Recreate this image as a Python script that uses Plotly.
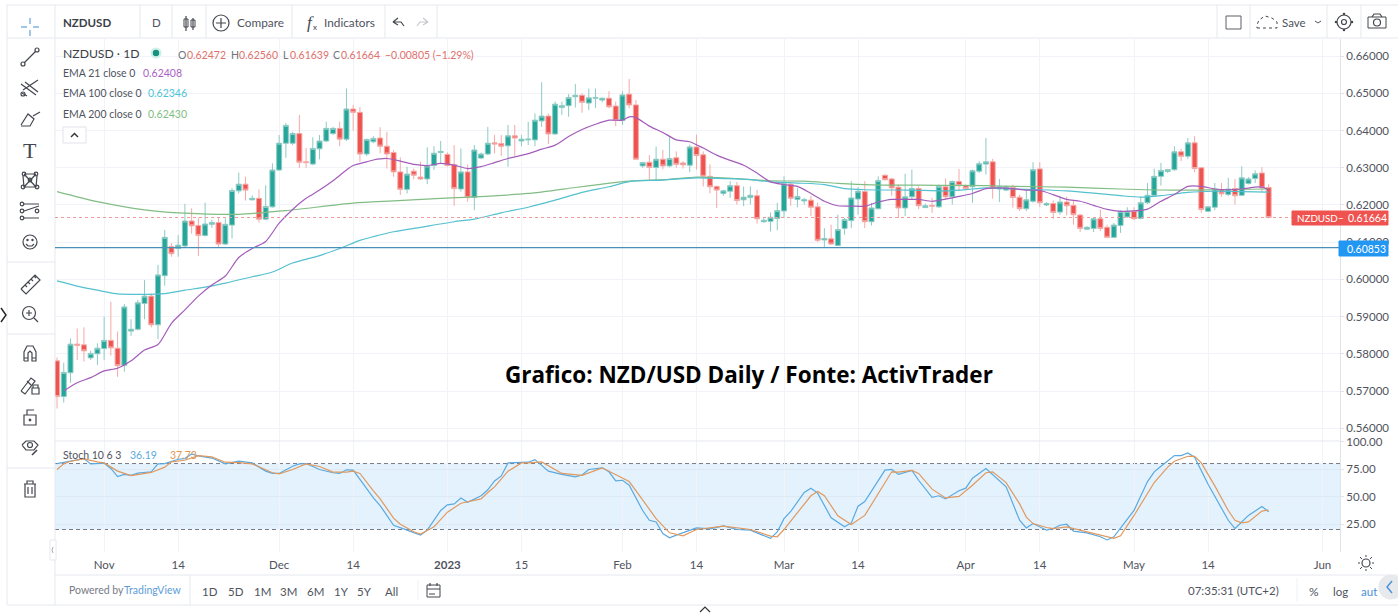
import re
import plotly.graph_objects as go

# ---------- candle data (bar number = position on the time scale) ----------
opens = [.5781,.5685,.5749,.5826,.5824,.5789,.5800,.5814,.5836,.5815,.5769,.5861,.5866,.5935,.5955,.5878,.6010,.6088,.6083,.6090,
.6157,.6145,.6118,.6148,.6153,.6095,.6146,.6238,.6256,.6214,.6218,.6162,.6195,.6294,.6366,.6366,.6392,.6316,.6310,.6351,
.6372,.6392,.6406,.6377,.6458,.6449,.6337,.6370,.6380,.6358,.6341,.6289,.6242,.6291,.6275,.6270,.6306,.6341,.6336,.6309,
.6243,.6289,.6220,.6326,.6337,.6367,.6365,.6359,.6386,.6372,.6375,.6375,.6426,.6439,.6391,.6462,.6467,.6491,.6495,.6474,
.6487,.6482,.6487,.6466,.6427,.6498,.6469,.6305,.6315,.6301,.6323,.6305,.6327,.6313,.6307,.6356,.6335,.6277,.6250,.6231,
.6237,.6252,.6214,.6220,.6225,.6155,.6156,.6164,.6184,.6256,.6215,.6211,.6213,.6195,.6106,.6109,.6091,.6137,.6158,.6216,
.6236,.6155,.6190,.6280,.6270,.6248,.6192,.6222,.6244,.6193,.6199,.6195,.6249,.6222,.6263,.6252,.6249,.6291,.6310,.6316,
.6243,.6240,.6247,.6221,.6190,.6210,.6297,.6200,.6204,.6181,.6208,.6199,.6173,.6135,.6137,.6163,.6140,.6113,.6145,.6168,
.6183,.6164,.6206,.6226,.6277,.6290,.6295,.6343,.6331,.6367,.6300,.6183,.6194,.6241,.6228,.6244,.6226,.6258,.6271,.6286,.62472]
highs = [.5790,.5776,.5841,.5868,.5871,.5808,.5828,.5900,.5940,.5860,.5934,.5893,.5945,.5998,.5962,.6039,.6133,.6097,.6119,.6203,
.6191,.6166,.6206,.6160,.6167,.6164,.6245,.6287,.6276,.6226,.6242,.6253,.6312,.6388,.6420,.6397,.6442,.6353,.6382,.6388,
.6424,.6410,.6424,.6513,.6469,.6463,.6379,.6385,.6409,.6397,.6348,.6328,.6303,.6298,.6316,.6355,.6358,.6372,.6341,.6361,
.6352,.6309,.6361,.6341,.6410,.6388,.6388,.6415,.6415,.6388,.6424,.6446,.6530,.6446,.6478,.6478,.6498,.6525,.6500,.6513,
.6513,.6489,.6506,.6478,.6506,.6539,.6482,.6316,.6334,.6357,.6348,.6385,.6344,.6318,.6362,.6389,.6344,.6309,.6252,.6241,
.6264,.6262,.6250,.6250,.6241,.6168,.6180,.6206,.6277,.6259,.6246,.6219,.6225,.6206,.6138,.6147,.6174,.6165,.6264,.6248,
.6264,.6206,.6277,.6282,.6273,.6255,.6284,.6295,.6250,.6204,.6219,.6255,.6271,.6266,.6297,.6255,.6295,.6318,.6380,.6324,
.6270,.6253,.6255,.6228,.6239,.6315,.6315,.6208,.6212,.6225,.6222,.6212,.6176,.6143,.6166,.6188,.6147,.6152,.6186,.6194,
.6194,.6222,.6259,.6298,.6313,.6297,.6358,.6351,.6380,.6385,.6302,.6197,.6259,.6259,.6273,.6270,.6304,.6275,.6293,.6302,.62560]
lows = [.5653,.5669,.5722,.5783,.5779,.5783,.5770,.5783,.5795,.5738,.5752,.5848,.5863,.5893,.5871,.5839,.5983,.6061,.6061,.6087,
.6123,.6063,.6115,.6139,.6085,.6092,.6110,.6231,.6212,.6212,.6153,.6160,.6193,.6292,.6327,.6361,.6300,.6300,.6307,.6323,
.6369,.6388,.6358,.6372,.6400,.6316,.6332,.6366,.6339,.6298,.6276,.6227,.6231,.6269,.6267,.6256,.6294,.6310,.6303,.6198,
.6236,.6209,.6186,.6323,.6334,.6339,.6332,.6303,.6332,.6358,.6361,.6358,.6410,.6364,.6388,.6442,.6437,.6462,.6448,.6455,
.6461,.6476,.6460,.6412,.6415,.6460,.6323,.6300,.6267,.6267,.6296,.6301,.6300,.6298,.6288,.6295,.6250,.6231,.6192,.6225,
.6219,.6201,.6197,.6201,.6150,.6152,.6129,.6132,.6165,.6198,.6194,.6201,.6170,.6100,.6085,.6094,.6089,.6120,.6138,.6174,
.6138,.6145,.6188,.6266,.6225,.6165,.6170,.6215,.6189,.6192,.6179,.6192,.6215,.6201,.6237,.6241,.6206,.6286,.6282,.6217,
.6208,.6237,.6193,.6184,.6184,.6206,.6195,.6197,.6163,.6174,.6172,.6147,.6127,.6134,.6127,.6130,.6111,.6111,.6125,.6165,
.6160,.6162,.6203,.6223,.6252,.6286,.6291,.6318,.6324,.6288,.6179,.6182,.6186,.6222,.6224,.6201,.6224,.6255,.6259,.6234,.61639]
closes = [.5685,.5750,.5826,.5823,.5808,.5801,.5815,.5836,.5816,.5768,.5926,.5866,.5937,.5955,.5878,.6012,.6113,.6069,.6092,.6157,
.6144,.6118,.6149,.6153,.6095,.6148,.6239,.6256,.6240,.6218,.6162,.6196,.6294,.6366,.6414,.6392,.6315,.6314,.6352,.6372,
.6406,.6406,.6377,.6458,.6449,.6337,.6376,.6379,.6358,.6337,.6289,.6242,.6283,.6280,.6270,.6305,.6339,.6344,.6306,.6244,
.6289,.6220,.6348,.6337,.6366,.6364,.6358,.6386,.6380,.6377,.6377,.6428,.6439,.6391,.6471,.6467,.6489,.6495,.6476,.6488,
.6489,.6487,.6464,.6427,.6496,.6469,.6323,.6314,.6301,.6323,.6305,.6325,.6309,.6308,.6356,.6333,.6277,.6249,.6240,.6238,
.6252,.6212,.6221,.6226,.6163,.6159,.6167,.6185,.6257,.6218,.6223,.6214,.6194,.6105,.6110,.6095,.6134,.6161,.6219,.6237,
.6155,.6192,.6266,.6268,.6246,.6192,.6222,.6244,.6198,.6198,.6197,.6250,.6222,.6263,.6252,.6244,.6292,.6311,.6316,.6245,
.6250,.6250,.6220,.6190,.6214,.6295,.6206,.6204,.6180,.6208,.6198,.6174,.6137,.6140,.6163,.6137,.6113,.6146,.6183,.6183,
.6163,.6206,.6226,.6277,.6293,.6295,.6343,.6331,.6367,.6298,.6188,.6195,.6243,.6230,.6243,.6225,.6273,.6270,.6284,.6246,.61664]
bars = list(range(len(closes)))

ema21_bars = [1,3,5,7,9,11,13,15,17,19,21,23,25,27,29,31,33,35,37,39,41,43,44,46,47,49,51,53,55,57,59,61,63,65,67,70,72,74,76,78,80,82,84,85,86,88,90,92,94,96,98,100,102,104,106,108,110,112,114,116,118,120,122,124,126,128,130,132,134,136,138,140,142,144,146,148,150,152,154,156,158,160,162,164,166,168,170,172,174,176,178,179,180]
ema21 = [.5700,.5722,.5736,.5754,.5761,.5781,.5810,.5825,.5882,.5918,.5955,.5985,.6009,.6059,.6083,.6102,.6151,.6188,.6218,.6240,.6265,.6294,.6306,.6316,.6321,.6325,.6318,.6309,.6306,.6312,.6307,.6298,.6303,.6314,.6325,.6338,.6350,.6361,.6384,.6403,.6417,.6428,.6428,.6437,.6435,.6412,.6395,.6375,.6370,.6353,.6334,.6320,.6307,.6286,.6262,.6255,.6250,.6231,.6210,.6198,.6197,.6197,.6208,.6215,.6215,.6215,.6210,.6216,.6223,.6231,.6244,.6246,.6244,.6240,.6239,.6228,.6215,.6210,.6199,.6188,.6183,.6184,.6189,.6210,.6228,.6250,.6250,.6243,.6241,.6243,.6248,.6248,.62408]

ema100_bars = [0,3,6,9,12,16,19,22,25,29,32,35,39,42,45,47,50,54,59,62,66,70,74,78,82,85,90,95,99,103,106,110,114,117,120,127,132,136,138,142,146,150,154,158,161,164,168,172,176,180]
ema100 = [.5996,.5982,.5971,.5961,.5960,.5962,.5971,.5979,.5990,.6007,.6020,.6044,.6064,.6083,.6105,.6115,.6128,.6140,.6155,.6162,.6179,.6194,.6213,.6234,.6249,.6263,.6267,.6273,.6271,.6268,.6262,.6259,.6255,.6244,.6241,.6240,.6238,.6243,.6246,.6243,.6241,.6238,.6232,.6225,.6221,.6225,.6234,.6237,.6236,.62346]

ema200_bars = [0,6,13,19,27,34,44,50,57,62,70,77,81,85,91,95,101,106,111,116,121,131,138,142,150,158,166,172,180]
ema200 = [.6236,.6209,.6187,.6178,.6175,.6185,.6205,.6211,.6218,.6222,.6231,.6247,.6256,.6264,.6269,.6275,.6271,.6265,.6264,.6258,.6254,.6253,.6252,.6250,.6248,.6243,.6240,.6241,.62430]

stoch_k_bars = [0,1,2,4,5,6,7,8,9,10,11,12,14,15,16,18,19,20,21,23,25,27,29,31,32,33,35,36,37,39,41,42,43,44,47,48,50,52,54,55,57,58,59,60,61,63,64,65,66,67,68,70,71,73,75,77,78,79,81,82,83,84,85,87,88,89,90,91,92,94,95,97,99,101,103,106,107,108,109,111,112,113,115,117,118,119,120,123,124,125,127,128,130,131,132,134,135,136,138,141,143,144,145,147,148,149,150,151,153,155,156,157,159,160,162,163,164,165,166,167,168,169,171,174,175,177,179,180]
stoch_k = [80.0,81.2,82.4,84.5,79.7,80.3,80.3,75.5,68.1,70.1,69.3,71.3,72.5,79.7,80.0,83.9,84.5,88.7,86.9,85.0,79.7,82.1,80.6,73.1,71.0,71.0,77.6,79.7,80.0,74.6,71.6,71.0,74.3,74.0,48.7,41.8,23.9,19.4,14.9,19.4,37.3,42.4,43.3,48.7,44.8,50.7,56.1,64.2,68.7,80.6,80.6,81.2,83.6,73.1,70.1,67.8,69.6,74.6,76.1,72.5,64.2,64.8,60.3,37.3,28.4,26.9,16.4,12.5,14.9,19.4,21.5,20.6,23.3,20.0,19.4,11.9,17.9,29.9,36.4,53.7,57.6,53.1,30.7,22.4,26.0,41.2,45.4,74.0,74.6,70.1,73.7,64.8,49.3,50.7,47.8,55.2,57.6,66.6,75.5,58.8,28.4,21.5,25.4,19.4,20.9,23.9,24.8,18.5,17.0,13.4,10.5,13.4,29.9,37.3,63.6,72.5,77.6,82.1,87.2,87.2,89.6,85.7,61.2,28.4,20.9,32.8,40.9,36.19]

stoch_d_bars = [0,1,2,4,6,7,9,11,14,16,17,19,21,23,25,27,29,32,33,35,37,39,41,43,44,45,47,48,50,51,53,54,56,58,60,61,63,64,65,67,69,70,72,75,78,81,83,85,87,89,91,93,95,99,103,106,107,108,112,113,114,116,118,120,124,125,127,128,130,132,134,136,138,139,141,143,144,145,147,148,150,152,153,156,157,158,160,163,165,166,168,169,170,172,174,175,176,177,179,180]
stoch_d = [74.6,79.7,82.1,84.2,81.5,80.6,73.1,69.0,71.9,76.7,81.5,83.0,87.2,86.0,81.2,80.9,79.7,71.6,70.7,74.6,79.7,77.3,72.2,72.2,73.1,71.0,55.2,47.8,30.4,24.8,17.9,15.8,22.4,35.8,43.9,45.4,47.8,53.7,58.8,73.1,80.6,80.6,81.5,71.0,69.3,76.1,70.1,63.6,46.9,29.9,17.0,14.3,20.0,23.0,20.0,14.0,13.4,20.0,50.7,54.6,50.7,32.5,24.5,32.8,72.5,72.2,73.7,71.0,56.7,48.7,50.1,60.3,71.6,72.5,62.7,43.3,31.3,25.4,21.8,20.9,22.4,19.4,17.3,12.8,11.9,14.3,32.8,62.7,76.7,82.1,86.6,86.6,80.6,59.7,37.3,28.4,26.0,26.9,36.7,37.73]

price_ticks = [.56,.57,.58,.59,.60,.61,.62,.63,.64,.65,.66]
stoch_ticks = [25,50,75,100]
time_tick_bars = [7,18,33,44,58,69,84,95,108,119,135,146,160,171,188]
time_tick_labels = ["Nov","14","Dec","14","<b>2023</b>","15","Feb","14","Mar","14","Apr","14","May","14","Jun"]
last_close = .61664
support_level = .60853
stoch_upper, stoch_lower = 80, 20

W, H = 1398, 613
FONT = "Lato"
GREY = "#50535e"

def fx(x): return x / W
def fy(y): return 1 - y / H

shapes, annos = [], []

def text(x, y, s, size=11.5, color=GREY, anchor="left", family=FONT, **kw):
    annos.append(dict(x=fx(x), y=fy(y), xref="paper", yref="paper", text=s, showarrow=False,
                      xanchor=anchor, yanchor="middle", align=anchor,
                      font=dict(size=size, color=color, family=family), borderpad=0, **kw))

def path(d, color="#44474f", width=1.2, fill=None, layer="above", dash=None):
    def rep(m):
        cmd, a, b = m.group(1), float(m.group(2)), float(m.group(3))
        return f"{cmd}{fx(a):.5f},{fy(b):.5f}"
    p = re.sub(r"([ML])\s*(-?[\d.]+)[ ,]+(-?[\d.]+)", rep, d)
    s = dict(type="path", path=p, xref="paper", yref="paper", layer=layer,
             line=dict(color=color, width=width, dash=dash or "solid"))
    if fill: s["fillcolor"] = fill
    shapes.append(s)

def rect(x0, y0, x1, y1, fill=None, line=None, width=1, layer="above"):
    shapes.append(dict(type="rect", xref="paper", yref="paper", x0=fx(x0), x1=fx(x1), y0=fy(y0), y1=fy(y1),
                       fillcolor=fill or "rgba(0,0,0,0)", line=dict(color=line or "rgba(0,0,0,0)", width=width), layer=layer))

def circ(cx, cy, r, fill=None, line="#44474f", width=1.2, dash=None):
    shapes.append(dict(type="circle", xref="paper", yref="paper", x0=fx(cx-r), x1=fx(cx+r), y0=fy(cy-r), y1=fy(cy+r),
                       fillcolor=fill or "rgba(0,0,0,0)", line=dict(color=line, width=width, dash=dash or "solid"), layer="above"))

def hline(x0, x1, y, color="#e6e8ee", width=1): path(f"M{x0},{y} L{x1},{y}", color, width)
def vline(x, y0, y1, color="#e6e8ee", width=1): path(f"M{x},{y0} L{x},{y1}", color, width)

# ---------- frame ----------
hline(7, 1398, 5); hline(7, 1398, 38); hline(7, 1398, 605)
hline(55, 1340, 441); hline(55, 1398, 575)
vline(7, 5, 605); vline(55, 5, 605)
for v in [140, 172, 206, 292, 385, 437, 1217, 1250, 1327, 1361]:
    vline(v, 5, 38)
vline(190, 575, 605); vline(1297, 578, 602, "#f0f1f4")
vline(418, 580, 600, "#f0f1f4")
for v in [262, 334, 468]:
    hline(7, 55, v)

# ---------- left tool icons ----------
path("M30,18 L30,24 M30,30 L30,36 M21,27 L27,27 M33,27 L39,27", "#7fb5e2", 1.5)
path("M24,63 L36,51"); circ(23, 64, 2); circ(37, 50, 2)
path("M23,90 L38,80 M25,82 L38,92 M21,84 L36,95 M22,93 L27,96"); circ(23, 94, 2)
path("M21,125 L28,114 L34,119 L30,126 L21,126 M33,116 L40,112")
text(30, 150, "T", 22, "#44474f", "center", "Liberation Serif")
path("M24,174 L36,174 M23,176 L24,187 L36,187 L37,176 M24,174 L36,187 M36,174 L24,187", "#44474f", 1.2)
for cx, cy in [(23, 187), (37, 187), (24, 174), (36, 174), (30, 180)]:
    circ(cx, cy, 1.8)
path("M24,204 L39,204 M24,211 L39,206 M24,218 L39,218")
for cx, cy in [(22, 204), (22, 211), (22, 218), (37, 211)]:
    circ(cx, cy, 1.8)
circ(30, 242, 7); circ(27.5, 240, .6, "#44474f"); circ(32.5, 240, .6, "#44474f")
path("M26,244 L28,246 L32,246 L34,244")
path("M21,289 L35,275 L40,280 L26,294 L21,289 M25,285 L27,287 M28,282 L30,284 M31,279 L33,281 M34,276 L36,278")
circ(29, 313, 6.5); path("M34,318 L38,322 M26,313 L32,313 M29,310 L29,316")
path("M24,361 L24,352 L27,346 L33,346 L36,352 L36,361 L32,361 L32,353 L30,351 L28,353 L28,361 L24,361 M24,358 L28,358 M32,358 L36,358")
path("M21,391 L31,378 L35,381 L25,394 L21,391 M27,381 L31,385")
rect(32, 388, 39, 394, line="#44474f", width=1.2); path("M33,388 L33,385 L38,385 L38,388")
rect(24, 415, 36, 425, line="#44474f", width=1.2); path("M27,415 L27,410 L34,410"); circ(30, 420, .8, "#44474f")
path("M22,445 L26,441 L34,441 L38,445 L34,450 L26,450 L22,445"); circ(30, 445, 2.5)
path("M32,455 L37,450", "#44474f", 1.6)
path("M24,484 L36,484 M27,484 L27,481 L33,481 L33,484 M25,484 L25,497 L35,497 L35,484 M28,487 L28,494 M32,487 L32,494")
path("M1,308 L6,315 L1,322", "#222222", 1.4)

# ---------- top bar ----------
text(62, 23, "<b>NZDUSD</b>", 11.5, "#3c3f48")
text(156, 23, "D", 11.5, "#50535e", "center")
path("M186,16 L186,31 M193,18 L193,30")
rect(184, 19, 188, 27, line="#44474f"); rect(191, 20, 195, 27, line="#44474f")
circ(221, 23, 8); path("M216,23 L226,23 M221,18 L221,28")
text(236, 23, "Compare", 11.8)
text(310, 22, "<i>f</i>", 17, "#44474f", "center", "Liberation Serif")
text(315, 27, "x", 8, "#44474f", "center")
text(323, 23, "Indicators", 11.8)
path("M393,22 L398,18 M393,22 L398,25 M393,22 L401,22 L404,26", "#44474f")
path("M428,22 L423,18 M428,22 L423,25 M428,22 L420,22 L417,26", "#c5c7cc")
rect(1226, 16, 1241, 29, line="#5c5f68")
path("M1257,28 L1277,28 L1277,22 L1272,18 L1265,16 L1259,20 L1257,25 L1257,28", "#44474f", 1, dash="dot")
text(1281, 23, "Save", 11.5)
path("M1315,21 L1318,23 L1321,21", "#50535e", 1)
circ(1344, 22, 2.5); circ(1344, 22, 7)
for a, b in [(1344, 14), (1344, 30), (1336, 22), (1352, 22)]:
    circ(a, b, .7, "#44474f", "#44474f")
rect(1368, 17, 1386, 28, line="#44474f"); circ(1377, 22.5, 3.5); path("M1372,17 L1374,14 L1380,14 L1382,17")

# ---------- legend ----------
text(62, 53, "NZDUSD · 1D", 12.2, "#3c3f48")
circ(156, 53, 5, "#d0efe9", "#d0efe9"); circ(156, 53, 2.6, "#14927f", "#14927f")
RD = "#e0706c"
for lab, lx, val, vx in [("O", 177, "0.62472", 186), ("H", 230, "0.62560", 238),
                         ("L", 282, "0.61639", 289), ("C", 332, "0.61664", 340)]:
    text(lx, 55, lab, 10.5, "#70737c")
    text(vx, 55, val, 10.5, RD)
text(384, 55, "−0.00805 (−1.29%)", 10.5, RD)
text(62, 73, "EMA 21 close 0", 10.5); text(142, 73, "0.62408", 10.5, "#ab5fc4")
text(62, 93, "EMA 100 close 0", 10.5); text(147, 93, "0.62346", 10.5, "#4ec3d6")
text(62, 114, "EMA 200 close 0", 10.5); text(147, 114, "0.62430", 10.5, "#7fbd82")
rect(63, 127, 86, 143, "#ffffff", "#e0e3eb")
path("M71,137 L74.5,133.5 L78,137", "#333333", 1.4)

text(62, 455, "Stoch 10 6 3", 10.5); text(129, 455, "36.19", 10.5, "#5aa9e0"); text(169, 455, "37.73", 10.5, "#e0964f")

# ---------- overlay title ----------
text(749, 374, "<b>Grafico: NZD/USD Daily / Fonte: ActivTrader</b>", 22.5, "#000000", "center", "Open Sans")

# ---------- bottom bar ----------
text(68, 590, "Powered by", 10.5, "#787b86"); text(123, 590, "TradingView", 10.5, "#5e9cd8")
for xp, s in zip([210, 236, 262, 288, 315, 341, 364, 391], ["1D", "5D", "1M", "3M", "6M", "1Y", "5Y", "All"]):
    text(xp, 591, s, 11.5, "#50535e", "center")
rect(427, 585, 440, 597, line="#44474f"); path("M427,589 L440,589 M430,583 L430,586 M437,583 L437,586 M429,594 L435,594")
text(1187, 590, "07:35:31 (UTC+2)", 11.5)
text(1314, 591, "%", 12, "#50535e", "center"); text(1340, 591, "log", 11.5, "#50535e", "center")
text(1369, 591, "aut", 11.5, "#4a90d9", "center")
circ(1391, 587, 12, "#e8e9ed", "#e8e9ed")
path("M1392,581 L1387,587 L1392,593", "#4a90d9", 1.4)
path("M700,612 L705,607 L710,612", "#333333", 1.2)
rect(50, 540, 56, 560, "#ffffff", "#e6e8ee")
path("M53,547 L52,550 L53,553", "#aaaaaa", 1)
circ(1366, 563, 4); path("M1366,555 L1366,557 M1366,569 L1366,571 M1358,563 L1360,563 M1372,563 L1374,563 M1360,557 L1362,559 M1370,567 L1372,569 M1372,557 L1370,559 M1362,567 L1360,569", "#44474f", 1)

# ---------- level lines and stoch band ----------
shapes.insert(0, dict(type="rect", xref="x domain", yref="y2", x0=0, x1=1, y0=stoch_lower, y1=stoch_upper,
                      fillcolor="#e3f2fd", line=dict(width=0), layer="below"))
for lv in (stoch_upper, stoch_lower):
    shapes.append(dict(type="line", xref="x domain", yref="y2", x0=0, x1=1, y0=lv, y1=lv, layer="below",
                       line=dict(color="#787b86", width=1, dash="4px,3px")))
shapes.append(dict(type="line", xref="x domain", yref="y", x0=0, x1=1, y0=support_level, y1=support_level,
                   layer="above", line=dict(color="#4a8fb8", width=1.2)))
shapes.append(dict(type="line", xref="x domain", yref="y", x0=0, x1=1, y0=last_close, y1=last_close,
                   layer="above", line=dict(color="#ef9a9a", width=1, dash="dot")))

# ---------- price badges ----------
rect(1292, 211, 1388, 225, "#ef5350", "#ef5350")
text(1296, 218, "NZDUSD", 9.8, "#ffffff"); text(1341, 218, "−", 9.8, "#ffffff", "center")
text(1347, 218, f"{last_close:.5f}", 10.5, "#ffffff")
rect(1339, 241, 1388, 256, "#2196f3", "#2196f3")
text(1346, 249, f"{support_level:.5f}", 10.5, "#ffffff")

# ---------- figure ----------
fig = go.Figure()
fig.add_trace(go.Candlestick(x=bars, open=opens, high=highs, low=lows, close=closes, xaxis="x", yaxis="y",
    increasing=dict(fillcolor="#26a69a", line=dict(color="#8ccbc4", width=1)),
    decreasing=dict(fillcolor="#ef5350", line=dict(color="#f4a9a6", width=1)),
    hoverinfo="skip", showlegend=False))
for xs, ys, col, ax in [
    (ema200_bars, ema200, "#82bd85", "y"),
    (ema100_bars, ema100, "#55c0cf", "y"),
    (ema21_bars, ema21, "#a45cbb", "y"),
    (stoch_k_bars, stoch_k, "#5aa9e0", "y2"),
    (stoch_d_bars, stoch_d, "#e0995f", "y2"),
]:
    fig.add_trace(go.Scatter(x=xs, y=ys, mode="lines", xaxis="x", yaxis=ax, showlegend=False, hoverinfo="skip",
                             line=dict(color=col, width=1.2, shape="spline" if ax == "y" else "linear", smoothing=.7)))

GRID = "#f1f3f8"
tickfont = dict(family=FONT, size=11.5, color="#50535e")
fig.update_layout(
    width=W, height=H, margin=dict(l=0, r=0, t=0, b=0, autoexpand=False), paper_bgcolor="#ffffff", plot_bgcolor="#ffffff",
    showlegend=False, boxgap=.26, boxgroupgap=0, shapes=shapes, annotations=annos,
    xaxis=dict(domain=[fx(55), fx(1340)], anchor="y2", range=[-.3, 190.6], tickvals=time_tick_bars,
               ticktext=time_tick_labels, showgrid=True, gridcolor=GRID, gridwidth=1, zeroline=False, ticks="",
               showline=False, tickfont=tickfont, ticklabelstandoff=5, rangeslider=dict(visible=False), fixedrange=True),
    yaxis=dict(domain=[fy(441), fy(39)], anchor="x", side="right", range=[.55656, .66462], tickvals=price_ticks,
               tickformat=".5f", showgrid=True, gridcolor=GRID, zeroline=False, showline=True, linecolor="#e0e3eb",
               ticks="outside", ticklen=3, tickcolor="#e0e3eb", tickfont=tickfont, fixedrange=True),
    yaxis2=dict(domain=[fy(551.5), fy(441)], anchor="x", side="right", range=[0, 100.5], tickvals=stoch_ticks,
                tickformat=".2f", showgrid=True, gridcolor="#dfe9f3", zeroline=False, showline=True, linecolor="#e0e3eb",
                ticks="outside", ticklen=3, tickcolor="#e0e3eb", tickfont=tickfont, fixedrange=True),
)
fig.write_html("out.html", config=dict(displayModeBar=False),
               post_script="document.body.style.margin='0';document.body.style.overflow='hidden';")
